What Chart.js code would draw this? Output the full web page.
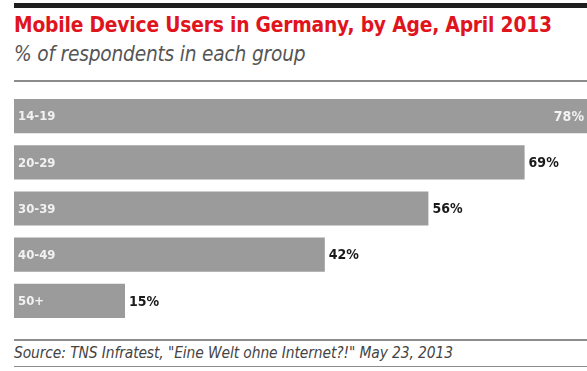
<!DOCTYPE html>
<html>
<head>
<meta charset="utf-8">
<script src="https://cdn.jsdelivr.net/npm/chart.js@4"></script>
<style>
    html, body { margin: 0; padding: 0; background: #fff; }
    body { width: 587px; height: 371px; position: relative; overflow: hidden; }
    #topBar { position: absolute; left: 14px; top: 3px; width: 573px; height: 5px; background: #1e1e1e; }
    #title { position: absolute; left: 14px; top: 13px; font: bold 20.8px "DejaVu Sans Condensed", sans-serif; color: #e0141c; white-space: nowrap; letter-spacing: -0.2px; }
    #subtitle { position: absolute; left: 14px; top: 42px; font: italic 20.7px "DejaVu Sans Condensed", sans-serif; color: #555; white-space: nowrap; letter-spacing: -0.2px; }
    .rule { position: absolute; left: 14px; width: 573px; height: 2px; background: #8c8c8c; }
    #source { position: absolute; left: 14px; top: 344px; font: italic 15.4px "DejaVu Sans Condensed", sans-serif; color: #444; white-space: nowrap; letter-spacing: -0.1px; }
    #chartBox { position: absolute; left: 14px; top: 93px; width: 740px; height: 231px; }
</style>
</head>
<body>
<div id="topBar"></div>
<div id="title">Mobile Device Users in Germany, by Age, April 2013</div>
<div id="subtitle">% of respondents in each group</div>
<div class="rule" style="top: 80px;"></div>
<div id="chartBox"><canvas id="chart"></canvas></div>
<div class="rule" style="top: 339px;"></div>
<div id="source">Source: TNS Infratest, "Eine Welt ohne Internet?!" May 23, 2013</div>
<div class="rule" style="top: 366px; height: 1px;"></div>

<script>
const ageGroups = ['14-19', '20-29', '30-39', '40-49', '50+'];
const shareValues = [78, 69, 56, 42, 15];

// draws the age label inside each bar and the % value after it
const barLabels = {
    id: 'barLabels',
    afterDatasetsDraw(chart) {
        const ctx = chart.ctx;
        const meta = chart.getDatasetMeta(0);
        const visibleRight = 587 - 14;
        ctx.save();
        ctx.textBaseline = 'middle';
        meta.data.forEach((bar, i) => {
            const y = bar.y + 1;
            ctx.font = 'bold 13px "DejaVu Sans Condensed", sans-serif';
            ctx.fillStyle = '#f2f2f2';
            ctx.textAlign = 'left';
            ctx.fillText(ageGroups[i], bar.base + 4, y);

            const txt = shareValues[i] + '%';
            ctx.font = 'bold 14px "DejaVu Sans Condensed", sans-serif';
            if (bar.x + 40 > visibleRight) {
                ctx.fillStyle = '#f2f2f2';
                ctx.textAlign = 'right';
                ctx.fillText(txt, visibleRight - 3, y);
            } else {
                ctx.fillStyle = '#1a1a1a';
                ctx.textAlign = 'left';
                ctx.fillText(txt, bar.x + 4, y);
            }
        });
        ctx.restore();
    }
};

new Chart(document.querySelector('#chart'), {
    type: 'bar',
    data: {
        labels: ageGroups,
        datasets: [{
            data: shareValues,
            backgroundColor: '#9b9b9b',
            borderWidth: 0,
            barPercentage: 0.74,
            categoryPercentage: 1
        }]
    },
    options: {
        indexAxis: 'y',
        responsive: true,
        maintainAspectRatio: false,
        animation: false,
        layout: { padding: 0 },
        plugins: {
            legend: { display: false },
            tooltip: { enabled: false }
        },
        scales: {
            x: { display: false, min: 0, max: 100 },
            y: { display: false }
        }
    },
    plugins: [barLabels]
});
</script>
</body>
</html>
